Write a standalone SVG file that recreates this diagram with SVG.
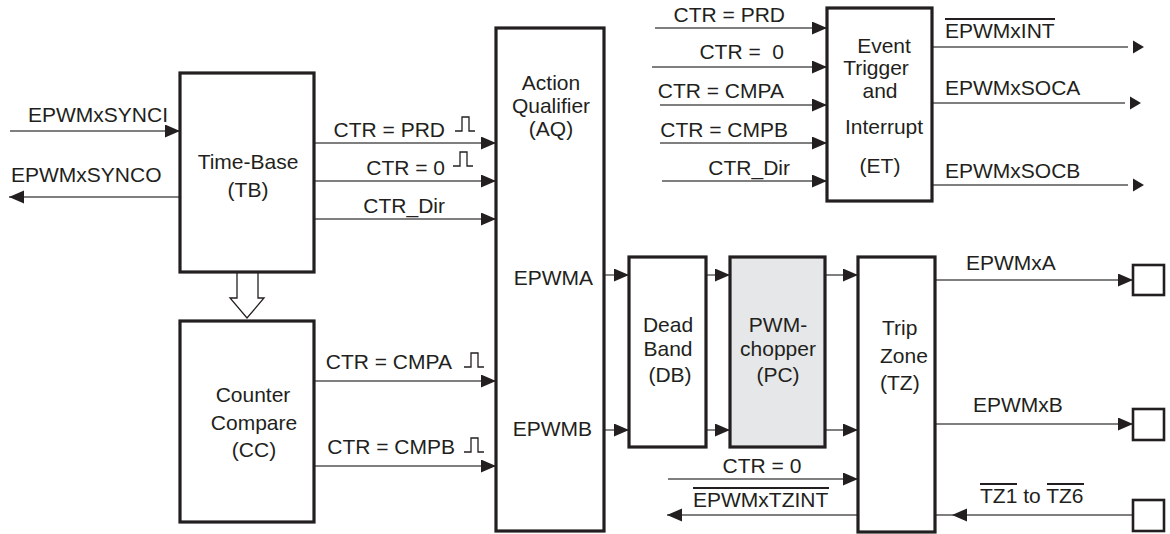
<svg xmlns="http://www.w3.org/2000/svg" width="1170" height="534" viewBox="0 0 1170 534">
<style>
.box{fill:#fff;stroke:#231f20;stroke-width:3.2}
.gray{fill:#e6e7e8}
.ln{fill:none;stroke:#555;stroke-width:1.4}
.t{font-family:"Liberation Sans",Arial,sans-serif;font-size:21px;fill:#231f20}
.m{text-anchor:middle}
.e{text-anchor:end}
.ov{stroke:#231f20;stroke-width:2}
.pulse{fill:none;stroke:#231f20;stroke-width:1.3}
.ah{fill:#231f20}
</style>
<defs>
<marker id="arr" markerUnits="userSpaceOnUse" markerWidth="16" markerHeight="14" refX="15" refY="6.5" orient="auto" viewBox="0 0 16 14">
<path d="M0,0 L15,6.5 L0,13 z" fill="#231f20"/>
</marker>
<path id="pl" d="M0,0 h7 v-14 h7 v14 h6"/>
</defs>

<g id="connectors">
<line class="ln" x1="10" y1="131" x2="180" y2="131" marker-end="url(#arr)"/>
<line class="ln" x1="180" y1="197" x2="9" y2="197" marker-end="url(#arr)"/>
<line class="ln" x1="314" y1="143" x2="496" y2="143" marker-end="url(#arr)"/>
<line class="ln" x1="314" y1="181" x2="496" y2="181" marker-end="url(#arr)"/>
<line class="ln" x1="314" y1="219" x2="496" y2="219" marker-end="url(#arr)"/>
<line class="ln" x1="314" y1="381" x2="496" y2="381" marker-end="url(#arr)"/>
<line class="ln" x1="314" y1="466" x2="496" y2="466" marker-end="url(#arr)"/>
<line class="ln" x1="604" y1="275" x2="629" y2="275" marker-end="url(#arr)"/>
<line class="ln" x1="604" y1="430" x2="629" y2="430" marker-end="url(#arr)"/>
<line class="ln" x1="706" y1="275" x2="730" y2="275" marker-end="url(#arr)"/>
<line class="ln" x1="706" y1="430" x2="730" y2="430" marker-end="url(#arr)"/>
<line class="ln" x1="825" y1="275" x2="858" y2="275" marker-end="url(#arr)"/>
<line class="ln" x1="825" y1="430" x2="858" y2="430" marker-end="url(#arr)"/>
<line class="ln" x1="668" y1="479" x2="858" y2="479" marker-end="url(#arr)"/>
<line class="ln" x1="858" y1="515" x2="667" y2="515" marker-end="url(#arr)"/>
<line class="ln" x1="935" y1="280" x2="1133" y2="280" marker-end="url(#arr)"/>
<line class="ln" x1="935" y1="424" x2="1133" y2="424" marker-end="url(#arr)"/>
<line class="ln" x1="935" y1="515" x2="1133" y2="515"/>
<path class="ah" d="M952,515 L967,508.5 L967,521.5 z"/>
<line class="ln" x1="655" y1="28" x2="827" y2="28" marker-end="url(#arr)"/>
<line class="ln" x1="652" y1="67" x2="827" y2="67" marker-end="url(#arr)"/>
<line class="ln" x1="660" y1="105" x2="827" y2="105" marker-end="url(#arr)"/>
<line class="ln" x1="660" y1="143" x2="827" y2="143" marker-end="url(#arr)"/>
<line class="ln" x1="662" y1="181" x2="827" y2="181" marker-end="url(#arr)"/>
<line class="ln" x1="932" y1="47" x2="1128" y2="47"/>
<path class="ah" d="M1133,40.5 L1144,47 L1133,53.5 z"/>
<line class="ln" x1="932" y1="103" x2="1125" y2="103"/>
<path class="ah" d="M1130,96.5 L1141,103 L1130,109.5 z"/>
<line class="ln" x1="932" y1="185" x2="1128" y2="185"/>
<path class="ah" d="M1133,178.5 L1144,185 L1133,191.5 z"/>
<polygon points="237,272 237,298 230,298 247,318 264,298 258,298 258,272" fill="#fff" stroke="#231f20" stroke-width="1.3"/>
<use href="#pl" class="pulse" x="455" y="131"/>
<use href="#pl" class="pulse" x="453" y="166"/>
<use href="#pl" class="pulse" x="464" y="367"/>
<use href="#pl" class="pulse" x="464" y="452"/>
</g>

<g id="tb">
<rect class="box" x="180" y="73" width="134" height="199"/>
<text class="t m" x="248" y="169">Time-Base</text>
<text class="t m" x="248" y="197">(TB)</text>
</g>
<g id="cc">
<rect class="box" x="180" y="321" width="134" height="201"/>
<text class="t m" x="253" y="402">Counter</text>
<text class="t m" x="254" y="430">Compare</text>
<text class="t m" x="254" y="457">(CC)</text>
</g>
<g id="aq">
<rect class="box" x="496" y="28" width="108" height="503"/>
<text class="t m" x="551" y="90">Action</text>
<text class="t m" x="551" y="113">Qualifier</text>
<text class="t m" x="551" y="136">(AQ)</text>
<text class="t e" x="593" y="285">EPWMA</text>
<text class="t e" x="592" y="436">EPWMB</text>
</g>
<g id="db">
<rect class="box" x="629" y="257" width="77" height="190"/>
<text class="t m" x="668" y="332">Dead</text>
<text class="t m" x="668" y="356">Band</text>
<text class="t m" x="670" y="382">(DB)</text>
</g>
<g id="pc">
<rect class="box gray" x="730" y="257" width="95" height="190"/>
<text class="t m" x="778" y="332">PWM-</text>
<text class="t m" x="778" y="356">chopper</text>
<text class="t m" x="778" y="382">(PC)</text>
</g>
<g id="tz">
<rect class="box" x="858" y="257" width="77" height="275"/>
<text class="t" x="882" y="335">Trip</text>
<text class="t" x="880" y="363">Zone</text>
<text class="t" x="880" y="390">(TZ)</text>
</g>
<g id="et">
<rect class="box" x="827" y="8" width="105" height="193"/>
<text class="t m" x="884" y="53">Event</text>
<text class="t m" x="876" y="75">Trigger</text>
<text class="t m" x="880" y="98">and</text>
<text class="t m" x="884" y="134">Interrupt</text>
<text class="t m" x="880" y="173">(ET)</text>
</g>
<g id="pinA"><rect class="box" x="1133" y="265" width="31" height="30" style="stroke-width:2.6"/></g>
<g id="pinB"><rect class="box" x="1133" y="409" width="31" height="31" style="stroke-width:2.6"/></g>
<g id="pinTZ"><rect class="box" x="1133" y="500" width="31" height="31" style="stroke-width:2.6"/></g>

<g id="labels">
<text class="t e" x="168" y="122">EPWMxSYNCI</text>
<text class="t" x="11" y="182">EPWMxSYNCO</text>
<text class="t e" x="445" y="137">CTR = PRD</text>
<text class="t e" x="445" y="175">CTR = 0</text>
<text class="t e" x="445" y="213">CTR_Dir</text>
<text class="t e" x="452" y="369">CTR = CMPA</text>
<text class="t e" x="455" y="454">CTR = CMPB</text>
<text class="t e" x="785" y="22">CTR = PRD</text>
<text class="t e" x="784" y="59" xml:space="preserve">CTR =  0</text>
<text class="t e" x="784" y="98">CTR = CMPA</text>
<text class="t e" x="788" y="137">CTR = CMPB</text>
<text class="t e" x="790" y="175">CTR_Dir</text>
<text class="t" x="945" y="38">EPWMxINT</text>
<line class="ov" x1="945" y1="19" x2="1055" y2="19"/>
<text class="t" x="945" y="95">EPWMxSOCA</text>
<text class="t" x="945" y="178">EPWMxSOCB</text>
<text class="t m" x="762" y="473">CTR = 0</text>
<text class="t" x="693" y="507">EPWMxTZINT</text>
<line class="ov" x1="693" y1="488" x2="829" y2="488"/>
<text class="t" x="966" y="270">EPWMxA</text>
<text class="t" x="973" y="412">EPWMxB</text>
<text class="t" x="980" y="503">TZ1 to TZ6</text>
<line class="ov" x1="980" y1="484" x2="1017" y2="484"/>
<line class="ov" x1="1047" y1="484" x2="1084" y2="484"/>
</g>
</svg>
